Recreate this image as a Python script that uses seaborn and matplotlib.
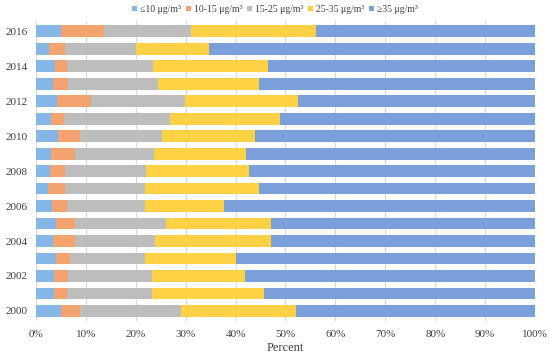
import numpy as np
import pandas as pd
import seaborn as sns
import matplotlib.pyplot as plt
from matplotlib.patches import Patch

years = [2016, 2015, 2014, 2013, 2012, 2011, 2010, 2009, 2008,
         2007, 2006, 2005, 2004, 2003, 2002, 2001, 2000]

# share of population (%) per PM2.5 class
le10 = [5.1, 2.7, 3.9, 3.5, 4.3, 3.1, 4.5, 3.1, 2.9, 2.4, 3.3, 4.0, 3.5, 4.0, 3.7, 3.7, 5.1]
c10_15 = [8.6, 3.2, 2.3, 3.0, 6.7, 2.5, 4.4, 4.7, 3.0, 3.5, 2.9, 3.8, 4.3, 2.9, 2.8, 2.5, 3.8]
c15_25 = [17.3, 14.1, 17.2, 17.9, 18.9, 21.3, 16.4, 15.8, 16.1, 15.9, 15.6, 18.3, 16.1, 14.9, 16.7, 17.1, 20.1]
c25_35 = [25.2, 14.7, 23.2, 20.3, 22.7, 22.1, 18.6, 18.5, 20.8, 22.9, 15.9, 21.0, 23.2, 18.3, 18.8, 22.4, 23.2]
ge35 = [100 - a - b - c - d for a, b, c, d in zip(le10, c10_15, c15_25, c25_35)]

labels = ['≤10 μg/m³', '10-15 μg/m³', '15-25 μg/m³', '25-35 μg/m³', '≥35 μg/m³']
colors = ['#86B6E6', '#F3A370', '#BDBDBD', '#FFD145', '#7B9FD8']

df = pd.DataFrame({'year': [str(y) for y in years],
                   labels[0]: le10, labels[1]: c10_15, labels[2]: c15_25,
                   labels[3]: c25_35, labels[4]: ge35})

plt.rcParams['font.family'] = ['Liberation Serif', 'DejaVu Serif']

fig = plt.figure(figsize=(5.5, 3.56), dpi=100)
ax = fig.add_axes([0.065, 0.097, 0.908, 0.845])

# stacked bars: draw cumulative sums from the widest down
cum = df[labels].cumsum(axis=1)
for lab, col in reversed(list(zip(labels, colors))):
    sns.barplot(x=cum[lab], y=df['year'], order=df['year'], orient='h',
                color=col, width=0.68, saturation=1, ax=ax)

ax.set_xlim(0, 100)
ax.set_ylim(16.6, -0.6)
ax.set_xticks(np.arange(0, 101, 10))
ax.set_xticklabels([f'{t}%' for t in range(0, 101, 10)])
ax.set_yticks(range(len(years)))
ax.set_yticklabels([str(y) if y % 2 == 0 else '' for y in years])
ax.tick_params(axis='both', length=0, labelsize=8, colors='#404040', pad=6)
ax.set_xlabel('Percent', fontsize=9, color='#404040', labelpad=2)
ax.set_ylabel('')
ax.set_axisbelow(True)
ax.grid(axis='x', color='#D9D9D9', linewidth=0.8)
for s in ax.spines.values():
    s.set_visible(False)

handles = [Patch(facecolor=c, label=l) for l, c in zip(labels, colors)]
fig.legend(handles=handles, loc='center', bbox_to_anchor=(0.5, 0.974), ncol=5,
           frameon=False, fontsize=7, handlelength=0.5, handleheight=0.5,
           handletextpad=0.3, columnspacing=0.5, labelcolor='#404040')

fig.savefig('out.png', dpi=100)
